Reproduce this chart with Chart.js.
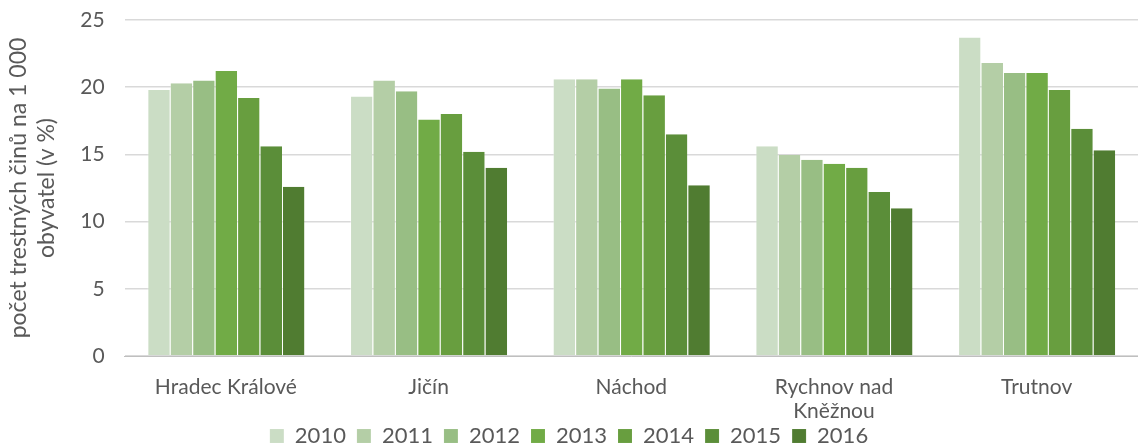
<!DOCTYPE html>
<html>
<head>
<meta charset="utf-8">
<script src="https://cdn.jsdelivr.net/npm/chart.js@4"></script>
<style>
html,body{margin:0;padding:0;background:#fff;}
#wrap{width:1138px;height:445px;}
</style>
</head>
<body>
<div id="wrap"><canvas id="c"></canvas></div>
<script>
const regions=['Hradec Králové','Jičín','Náchod',['Rychnov nad','Kněžnou'],'Trutnov'];
const years=['2010','2011','2012','2013','2014','2015','2016'];
const v2010=[19.8,19.3,20.6,15.6,23.7];
const v2011=[20.3,20.5,20.6,14.95,21.8];
const v2012=[20.5,19.7,19.9,14.6,21.05];
const v2013=[21.2,17.6,20.6,14.3,21.05];
const v2014=[19.2,18.0,19.4,14.0,19.8];
const v2015=[15.6,15.2,16.5,12.2,16.9];
const v2016=[12.6,14.0,12.7,11.0,15.3];
const colors=['#cbddc5','#b4cea6','#98be84','#71ab46','#689e3f','#5b8e39','#507c31'];
const yTicks=[0,5,10,15,20,25];
const series=[v2010,v2011,v2012,v2013,v2014,v2015,v2016];

const font="Lato, 'Open Sans', sans-serif";
// x labels run below the axis box into the legend strip, so widen the clip
const unclipX={id:'unclipX',afterLayout(c){c.scales.x.bottom=c.height;}};
new Chart(document.getElementById('c'),{
  type:'bar',
  data:{labels:regions,datasets:series.map((s,i)=>({
    label:years[i],data:s,backgroundColor:colors[i],
    borderColor:'rgba(255,255,255,0.35)',borderWidth:{left:1,right:0,top:0,bottom:0},
    categoryPercentage:0.775,barPercentage:1
  }))},
  options:{
    responsive:true,maintainAspectRatio:false,animation:false,
    layout:{padding:0},
    plugins:{
      legend:{position:'bottom',maxHeight:31,labels:{font:{family:font,size:22},color:'#595959',boxWidth:14,boxHeight:14,padding:11}},
      tooltip:{enabled:false}
    },
    scales:{
      x:{grid:{display:false,drawTicks:false},border:{color:'#bfbfbf'},
        afterFit:s=>{s.height=58;},
        ticks:{font:{family:font,size:21,lineHeight:1.15},color:'#595959',padding:19}},
      y:{min:0,max:25,afterBuildTicks:a=>{a.ticks=yTicks.map(v=>({value:v}));},
        afterFit:s=>{s.paddingTop=20;s.paddingBottom=0;},
        grid:{color:'#d9d9d9',lineWidth:1.5,drawTicks:false},border:{display:false},
        ticks:{font:{family:font,size:21},color:'#595959',padding:20},
        title:{display:true,text:['počet trestných činů na 1 000','obyvatel (v %)'],font:{family:font,size:23,lineHeight:1.2},color:'#595959',padding:{top:5,bottom:0}}}
    }
  },
  plugins:[unclipX]
});
</script>
</body>
</html>
